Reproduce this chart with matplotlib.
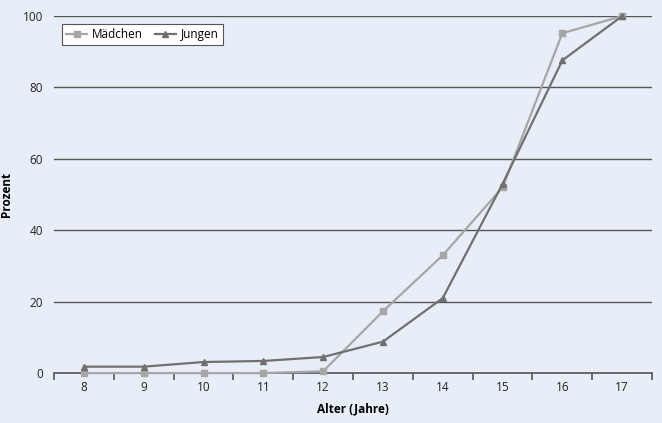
import numpy as np
import matplotlib
matplotlib.use('Agg')
import matplotlib.pyplot as plt

plt.rcParams['font.family'] = ['Open Sans', 'DejaVu Sans']

# Altersgruppen und Anteile (Prozent)
alter = [8, 9, 10, 11, 12, 13, 14, 15, 16, 17]
maedchen = [0, 0, 0, 0, 0.5, 17.3, 33, 52, 95.2, 100]
jungen = [1.8, 1.8, 3.1, 3.4, 4.5, 8.8, 21, 53, 87.6, 100]

bg = '#e8eef8'
fig = plt.figure(figsize=(6.62, 4.23), dpi=100, facecolor=bg)
ax = fig.add_axes([0.0816, 0.118, 0.9034, 0.844], facecolor=bg)

x = np.arange(len(alter))
ax.plot(x, maedchen, '-s', color='#a6a6a6', lw=1.6, ms=5, label='Mädchen',
        zorder=3, clip_on=False)
ax.plot(x, jungen, '-^', color='#707070', lw=1.6, ms=5, label='Jungen',
        zorder=4, clip_on=False)

ax.set_xlim(-0.5, len(alter) - 0.5)
ax.set_ylim(0, 100)
ax.set_yticks([0, 20, 40, 60, 80, 100])
ax.yaxis.grid(True, color='#555555', lw=1)
ax.set_axisbelow(True)
ax.tick_params(axis='y', length=0, labelsize=8.5, colors='#222222', pad=8)

# category labels centered, tick marks at boundaries
ax.set_xticks(x)
ax.set_xticklabels([str(a) for a in alter])
ax.set_xticks(np.arange(-0.5, len(alter)), minor=True)
ax.tick_params(axis='x', which='major', length=0, labelsize=8.5, colors='#222222', pad=6)
ax.tick_params(axis='x', which='minor', length=5, width=1.2, color='#555555')

for s in ['top', 'right', 'left']:
    ax.spines[s].set_visible(False)
ax.spines['bottom'].set_color('#555555')
ax.spines['bottom'].set_linewidth(1.2)

ax.set_xlabel('Alter (Jahre)', fontsize=8.5, fontweight='bold', labelpad=6)
ax.set_ylabel('Prozent', fontsize=8.5, fontweight='bold')
ax.yaxis.set_label_coords(-0.068, 0.5)

leg = ax.legend(loc='upper left', ncol=2, fontsize=8.5, frameon=True, fancybox=False,
                edgecolor='#555555', handlelength=1.8, columnspacing=1.0,
                borderpad=0.35, bbox_to_anchor=(0.013, 0.978), borderaxespad=0,
                handletextpad=0.4)
leg.get_frame().set_linewidth(0.8)
leg.get_frame().set_facecolor('white')
leg.get_frame().set_alpha(1)

plt.savefig('out.png', dpi=100, facecolor=bg)
